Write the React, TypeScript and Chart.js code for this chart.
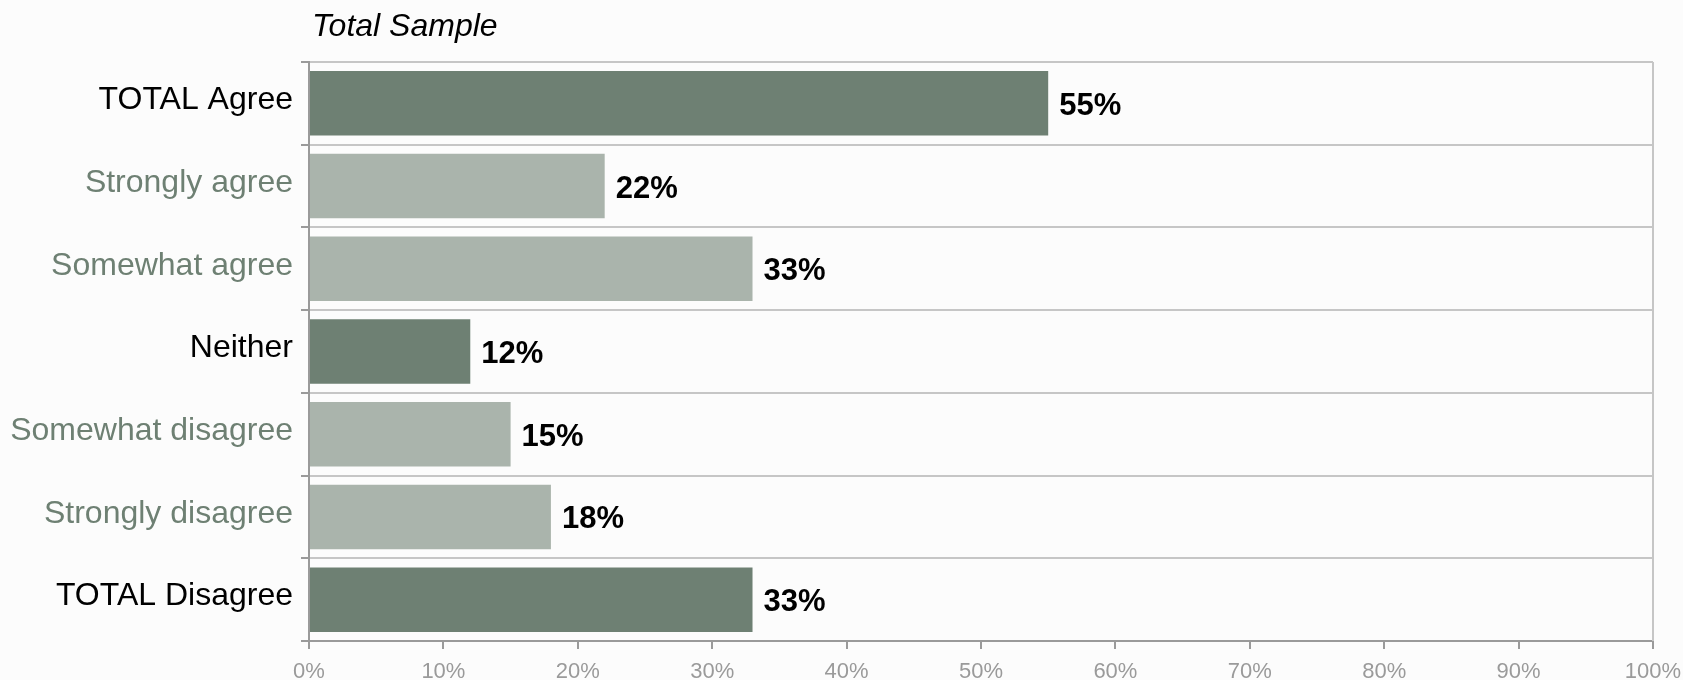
import React, { useEffect, useRef } from "react";
import { Chart, registerables } from "chart.js";

Chart.register(...registerables);

const categories = [
  "TOTAL Agree",
  "Strongly agree",
  "Somewhat agree",
  "Neither",
  "Somewhat disagree",
  "Strongly disagree",
  "TOTAL Disagree",
];
const values = [55, 22, 33, 12, 15, 18, 33];
const isTotalRow = [true, false, false, true, false, false, true];
const xTicks = [0, 10, 20, 30, 40, 50, 60, 70, 80, 90, 100];
const titleText = "Total Sample";

const DARK = "#6e8073";
const LIGHT = "#aab4ac";
const FONT = "'Liberation Sans', Arial, sans-serif";

export default function App() {
  const ref = useRef<HTMLCanvasElement | null>(null);

  useEffect(() => {
    document.body.style.margin = "0";
    document.body.style.background = "#fcfcfc";
    const canvas = ref.current;
    if (!canvas) return;

    const bgPlugin = {
      id: "bg",
      beforeDraw(chart: any) {
        const { ctx, width, height } = chart;
        ctx.save();
        ctx.fillStyle = "#fcfcfc";
        ctx.fillRect(0, 0, width, height);
        ctx.restore();
      },
    };

    const framePlugin = {
      id: "frame",
      beforeDatasetsDraw(chart: any) {
        const { ctx, chartArea } = chart;
        ctx.save();
        ctx.strokeStyle = "#c6c6c6";
        ctx.lineWidth = 2;
        ctx.beginPath();
        ctx.moveTo(chartArea.right, chartArea.top);
        ctx.lineTo(chartArea.right, chartArea.bottom);
        ctx.stroke();
        ctx.restore();
      },
      afterDraw(chart: any) {
        const { ctx, chartArea } = chart;
        ctx.save();
        ctx.fillStyle = "#000";
        ctx.font = `italic 32px ${FONT}`;
        ctx.textAlign = "left";
        ctx.textBaseline = "middle";
        ctx.fillText(titleText, chartArea.left + 3, 27);
        ctx.restore();
      },
    };

    const labelPlugin = {
      id: "valueLabels",
      afterDatasetsDraw(chart: any) {
        const { ctx } = chart;
        const meta = chart.getDatasetMeta(0);
        ctx.save();
        ctx.fillStyle = "#000";
        ctx.font = `bold 31px ${FONT}`;
        ctx.textAlign = "left";
        ctx.textBaseline = "middle";
        meta.data.forEach((bar: any, i: number) => {
          ctx.fillText(`${values[i]}%`, bar.x + 11, bar.y + 3);
        });
        ctx.restore();
      },
    };

    const chart = new Chart(canvas, {
      type: "bar",
      data: {
        labels: categories,
        datasets: [
          {
            data: values,
            backgroundColor: isTotalRow.map((t) => (t ? DARK : LIGHT)),
            borderWidth: 0,
            categoryPercentage: 1,
            barPercentage: 0.78,
          },
        ],
      },
      options: {
        indexAxis: "y",
        animation: false,
        responsive: false,
        maintainAspectRatio: false,
        layout: { padding: { top: 62, right: 30, left: 0, bottom: 0 } },
        plugins: {
          legend: { display: false },
          tooltip: { enabled: false },
          title: { display: false },
        },
        scales: {
          x: {
            type: "linear",
            min: 0,
            max: 100,
            afterBuildTicks(scale: any) {
              scale.ticks = xTicks.map((v) => ({ value: v }));
            },
            afterFit(scale: any) {
              scale.height = 39;
              scale.paddingRight = 0;
              scale.paddingLeft = 0;
            },
            ticks: {
              callback: (v: any) => `${v}%`,
              color: "#9a9a9a",
              font: { family: FONT, size: 22 },
              padding: 10,
              maxRotation: 0,
              autoSkip: false,
            },
            grid: {
              display: true,
              drawOnChartArea: false,
              drawTicks: true,
              tickLength: 8,
              color: "#9a9a9a",
              lineWidth: 2,
            },
            border: { display: true, color: "#9a9a9a", width: 2 },
          },
          y: {
            afterFit(scale: any) {
              scale.width = 309;
            },
            ticks: {
              color: (ctx: any) => (isTotalRow[ctx.index] ? "#000" : DARK),
              font: { family: FONT, size: 32 },
              padding: 8,
              labelOffset: -3,
              autoSkip: false,
            },
            grid: {
              display: true,
              offset: true,
              drawOnChartArea: true,
              drawTicks: true,
              tickLength: 8,
              color: "#c6c6c6",
              tickColor: "#9a9a9a",
              lineWidth: 2,
            },
            border: { display: true, color: "#9a9a9a", width: 2 },
          },
        },
      },
      plugins: [bgPlugin, framePlugin, labelPlugin],
    } as any);

    return () => chart.destroy();
  }, []);

  return (
    <div style={{ width: 1683, height: 680 }}>
      <canvas ref={ref} width={1683} height={680} style={{ display: "block" }} />
    </div>
  );
}
